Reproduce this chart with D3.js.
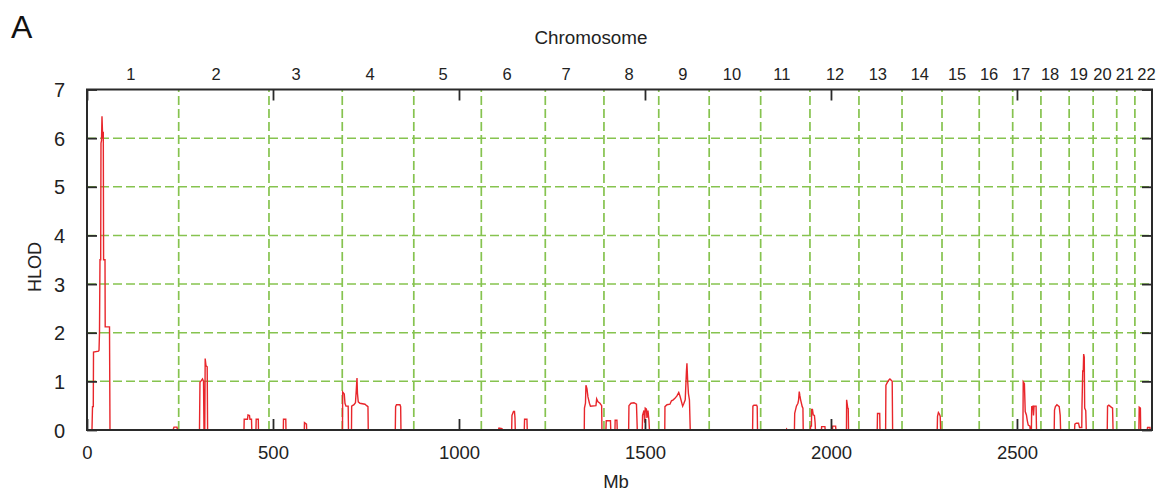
<!DOCTYPE html>
<html>
<head>
<meta charset="utf-8">
<script src="https://cdn.jsdelivr.net/npm/d3@7"></script>
<style>
  html, body { margin: 0; padding: 0; background: #fff; }
  svg { display: block; font-family: "Liberation Sans", Arial, sans-serif; }
</style>
</head>
<body>
<svg id="chart" width="1162" height="499"></svg>
<script>
// ---------------- data ----------------
const chromosomes = ["1","2","3","4","5","6","7","8","9","10","11","12","13","14","15","16","17","18","19","20","21","22"];
const chrLabelMb = [118, 347, 562, 761, 957, 1129, 1288, 1457, 1602, 1734, 1868, 2011, 2126, 2239, 2339, 2425, 2511, 2589, 2666, 2730, 2790, 2848];
const chrBoundaryMb = [246.5, 489.2, 686.2, 878.5, 1060, 1232, 1389.7, 1537, 1672.6, 1811, 1943.5, 2075.2, 2191, 2298.5, 2398.5, 2488.5, 2564.4, 2640.3, 2704.8, 2768.2, 2817];
const mbTicks = [0, 500, 1000, 1500, 2000, 2500];
const hlodTicks = [0, 1, 2, 3, 4, 5, 6, 7];
const mbMax = 2863;

// HLOD trace: genome position (Mb) and HLOD value
const traceMb = [
  0, 13.4, 14.8, 16.9, 17.5, 30.9, 32.3, 33.6, 34.9, 36.8, 37.6, 39.0, 40.3, 42.2, 43.8, 44.6, 48.4, 48.9, 60.5, 61.8,
  231.2, 233.9, 241.9, 243.3,
  302.4, 303.7, 307.8, 310.5, 313.2, 314.5, 316.6, 317.7, 319.9, 323.1, 324.2,
  422.0, 422.6, 431.4, 432.8, 436.8, 438.1, 442.2, 443.0, 454.2, 454.8, 460.5, 461.0,
  527.7, 528.2, 534.4, 534.9, 584.1, 584.6, 590.0, 590.5,
  686.8, 687.3, 691.6, 693.5, 696.2, 702.1, 702.9, 711.0, 711.5, 717.7, 721.7, 723.9, 725.8, 727.1, 729.2, 733.8, 747.3, 751.8, 755.3, 756.1,
  828.8, 829.6, 832.0, 841.3, 843.2, 844.0,
  1105.6, 1107.5, 1115.5, 1117.4, 1141.6, 1142.4, 1146.5, 1149.2, 1150.5, 1151.3, 1175.5, 1176.3, 1182.7, 1183.5,
  1336.8, 1337.3, 1340.0, 1341.3, 1344.0, 1346.7, 1350.7, 1353.4, 1368.2, 1370.1, 1373.6, 1379.0, 1383.5, 1384.3,
  1395.0, 1395.9, 1407.2, 1408.0, 1419.3, 1419.8, 1424.6, 1425.4,
  1456.1, 1456.9, 1462.3, 1470.4, 1477.1, 1479.3,
  1492.7, 1493.5, 1497.3, 1499.2, 1500.7, 1503.9, 1505.3, 1508.0, 1510.7, 1512.0,
  1553.2, 1553.7, 1559.1, 1567.1, 1571.2, 1576.0, 1580.5, 1585.9, 1590.8, 1594.0, 1601.3, 1604.7, 1608.2, 1611.4, 1612.8, 1614.7, 1616.8, 1619.5, 1621.7,
  1789.3, 1790.1, 1792.8, 1800.1, 1801.7, 1802.5,
  1879.7, 1880.8, 1882.4,
  1901.7, 1902.5, 1907.1, 1911.2, 1913.0, 1914.7, 1916.5, 1918.4, 1922.7, 1924.6, 1925.4,
  1944.8, 1945.3, 1947.5, 1948.0, 1950.2, 1952.3, 1955.5, 1957.4, 1958.2,
  1974.3, 1974.9, 1983.7, 1984.5, 2003.9, 2004.5, 2012.5, 2013.3,
  2041.6, 2042.1, 2045.1, 2046.4, 2047.2,
  2124.3, 2125.1, 2131.0, 2131.8,
  2146.9, 2147.7, 2152.3, 2155.8, 2158.5, 2162.5, 2164.6, 2165.7,
  2285.6, 2286.4, 2288.8, 2291.5, 2293.7, 2294.8,
  2516.0, 2516.8, 2520.0, 2522.2, 2525.4, 2527.6, 2530.3, 2534.8, 2535.6,
  2538.8, 2539.6, 2542.8, 2544.4, 2546.0, 2551.4, 2552.5,
  2600.1, 2600.9, 2603.3, 2607.4, 2613.6, 2616.2, 2617.3,
  2654.8, 2655.6, 2659.4, 2665.5, 2668.2, 2674.2, 2674.7, 2676.8, 2678.2, 2679.3, 2680.9, 2682.0, 2684.9, 2686.3,
  2742.7, 2743.5, 2747.0, 2751.6, 2757.0, 2758.3,
  2827.8, 2828.6, 2831.8, 2832.6,
  2850.2, 2851.0, 2857.4, 2858.3, 2863
];
const traceHlod = [
  0, 0, 0.48, 0.48, 1.6, 1.62, 1.64, 2.0, 3.5, 3.5, 5.9, 5.95, 6.45, 6.0, 6.13, 3.5, 3.5, 2.12, 2.12, 0,
  0, 0.06, 0.06, 0,
  0, 0.98, 1.02, 1.05, 1.0, 0, 0, 1.47, 1.32, 1.3, 0,
  0, 0.22, 0.22, 0.31, 0.3, 0.22, 0.22, 0, 0, 0.22, 0.22, 0,
  0, 0.22, 0.22, 0, 0, 0.15, 0.12, 0,
  0, 0.78, 0.74, 0.55, 0.49, 0.49, 0, 0, 0.49, 0.52, 0.56, 0.82, 1.07, 0.75, 0.58, 0.55, 0.53, 0.5, 0.48, 0,
  0, 0.48, 0.52, 0.52, 0.48, 0,
  0, 0.04, 0.03, 0, 0, 0.3, 0.38, 0.38, 0.25, 0, 0, 0.22, 0.22, 0,
  0, 0.45, 0.55, 0.92, 0.85, 0.68, 0.55, 0.49, 0.5, 0.64, 0.58, 0.55, 0.5, 0,
  0, 0.19, 0.19, 0, 0, 0.2, 0.2, 0,
  0, 0.5, 0.55, 0.56, 0.53, 0,
  0, 0.3, 0.4, 0.15, 0.45, 0.43, 0.25, 0.4, 0.2, 0,
  0, 0.48, 0.52, 0.53, 0.6, 0.62, 0.65, 0.7, 0.77, 0.7, 0.49, 0.55, 0.62, 1.2, 1.37, 1.02, 0.75, 0.62, 0,
  0, 0.49, 0.51, 0.51, 0.48, 0,
  0, 0.02, 0,
  0, 0.34, 0.49, 0.55, 0.62, 0.79, 0.7, 0.62, 0.48, 0.45, 0,
  0, 0.08, 0.08, 0.42, 0.42, 0.31, 0.3, 0.15, 0,
  0, 0.07, 0.07, 0, 0, 0.08, 0.08, 0,
  0, 0.62, 0.45, 0.44, 0,
  0, 0.34, 0.34, 0,
  0, 0.92, 0.99, 1.03, 1.05, 1.02, 1.0, 0,
  0, 0.28, 0.36, 0.33, 0.28, 0,
  0, 0.99, 0.95, 0.38, 0.31, 0.2, 0.1, 0.08, 0,
  0, 0.48, 0.49, 0.3, 0.49, 0.49, 0,
  0, 0.41, 0.48, 0.52, 0.48, 0.3, 0,
  0, 0.12, 0.14, 0.14, 0.05, 0.05, 0.45, 1.23, 1.2, 1.56, 1.5, 0.45, 0.4, 0,
  0, 0.49, 0.51, 0.48, 0.45, 0,
  0, 0.47, 0.45, 0,
  0, 0.05, 0.05, 0, 0
];

// ---------------- drawing ----------------
const svg = d3.select("#chart");
const W = 1162, H = 499;
svg.append("rect").attr("width", W).attr("height", H).attr("fill", "#fff");

const x = d3.scaleLinear().domain([0, mbMax]).range([87, 1152]);
const y = d3.scaleLinear().domain([0, 7]).range([430, 89.5]);

const gridColor = "#86c34f";
const axisColor = "#2a2a2a";

// horizontal grid lines
svg.append("g").selectAll("line").data(hlodTicks.filter(d => d > 0 && d < 7)).join("line")
  .attr("x1", x(0)).attr("x2", x(mbMax))
  .attr("y1", d => y(d)).attr("y2", d => y(d))
  .attr("stroke", gridColor).attr("stroke-width", 1.5)
  .attr("stroke-dasharray", "9,4");

// vertical chromosome boundary lines
svg.append("g").selectAll("line").data(chrBoundaryMb).join("line")
  .attr("x1", d => x(d)).attr("x2", d => x(d))
  .attr("y1", y(0)).attr("y2", y(7))
  .attr("stroke", gridColor).attr("stroke-width", 1.7)
  .attr("stroke-dasharray", "9,4");

// trace
const pts = traceMb.map((m, i) => [m, traceHlod[i]]);
const line = d3.line().x(d => x(d[0])).y(d => y(d[1]));
svg.append("path").datum(pts)
  .attr("d", line)
  .attr("fill", "none")
  .attr("stroke", "#e8262b")
  .attr("stroke-width", 1.4)
  .attr("stroke-linejoin", "miter");

// axes (ticks inward)
const tickLen = 11;
const gBottom = svg.append("g").attr("transform", `translate(0,${y(0)})`)
  .call(d3.axisBottom(x).tickValues(mbTicks).tickSize(-tickLen).tickPadding(tickLen + 8).tickFormat(d3.format("d")));
const gTop = svg.append("g").attr("transform", `translate(0,${y(7)})`)
  .call(d3.axisTop(x).tickValues(mbTicks).tickSize(-tickLen).tickFormat(""));
const gLeft = svg.append("g").attr("transform", `translate(${x(0)},0)`)
  .call(d3.axisLeft(y).tickValues(hlodTicks).tickSize(-10).tickPadding(22).tickFormat(d3.format("d")));
const gRight = svg.append("g").attr("transform", `translate(${x(mbMax)},0)`)
  .call(d3.axisRight(y).tickValues(hlodTicks).tickSize(-10).tickFormat(""));

[gBottom, gTop, gLeft, gRight].forEach(g => {
  g.select(".domain").remove();
  g.selectAll(".tick line").attr("stroke", axisColor).attr("stroke-width", 1.8);
  g.selectAll(".tick text").attr("fill", "#222").attr("font-family", "Liberation Sans, Arial, sans-serif");
});
gBottom.selectAll(".tick text").attr("font-size", 18.5).attr("dy", "0.55em");
gLeft.selectAll(".tick text").attr("font-size", 20).attr("dy", "0.36em");

// frame
svg.append("rect")
  .attr("x", x(0)).attr("y", y(7))
  .attr("width", x(mbMax) - x(0)).attr("height", y(0) - y(7))
  .attr("fill", "none").attr("stroke", axisColor).attr("stroke-width", 2);

// chromosome labels (top)
svg.append("g").selectAll("text").data(chromosomes).join("text")
  .attr("x", (d, i) => x(chrLabelMb[i]))
  .attr("y", 80)
  .attr("text-anchor", "middle")
  .attr("font-size", 16.5)
  .attr("fill", "#222")
  .text(d => d);

// titles
svg.append("text").attr("x", 591).attr("y", 44).attr("text-anchor", "middle")
  .attr("font-size", 18).attr("fill", "#222")
  .attr("textLength", 113).attr("lengthAdjust", "spacingAndGlyphs")
  .text("Chromosome");
svg.append("text").attr("x", 616).attr("y", 488).attr("text-anchor", "middle")
  .attr("font-size", 18.5).attr("fill", "#222").text("Mb");
svg.append("text").attr("transform", "translate(41,267) rotate(-90)").attr("text-anchor", "middle")
  .attr("font-size", 18).attr("fill", "#222").text("HLOD");
svg.append("text").attr("x", 11).attr("y", 38).attr("font-size", 32).attr("fill", "#111").text("A");
</script>
</body>
</html>
